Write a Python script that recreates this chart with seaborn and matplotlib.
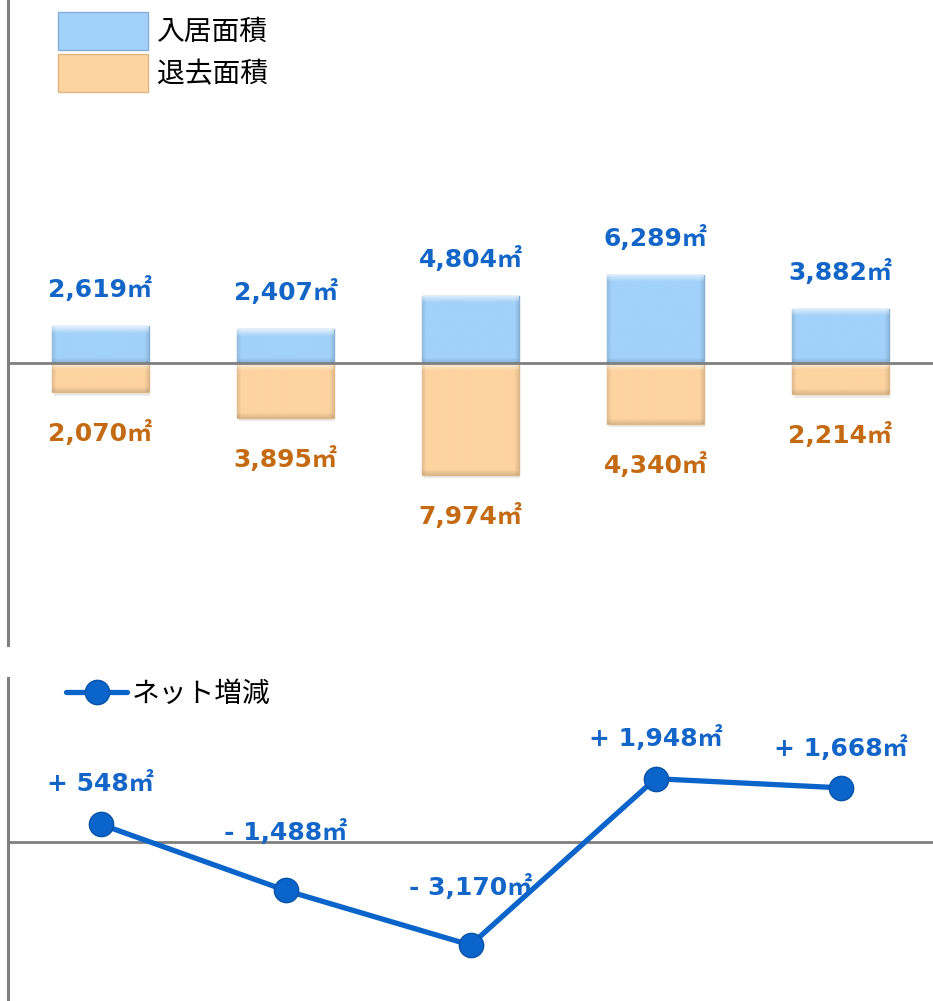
import numpy as np
import pandas as pd
import matplotlib
matplotlib.use("Agg")
import matplotlib.pyplot as plt
from matplotlib.patches import Patch
from matplotlib.colors import to_rgb
import seaborn as sns

# ---- data ----
periods = ["P1", "P2", "P3", "P4", "P5"]
move_in = [2619, 2407, 4804, 6289, 3882]      # 入居面積
move_out = [2070, 3895, 7974, 4340, 2214]     # 退去面積
net_change = [548, -1488, -3170, 1948, 1668]  # ネット増減

# ---- style ----
BLUE_BAR = "#A2D1F9"
BLUE_EDGE = "#86AED6"
ORANGE_BAR = "#FDD3A0"
ORANGE_EDGE = "#DDB684"
BLUE_TXT = "#1366C8"
ORANGE_TXT = "#C46A12"
LINE_C = "#0A64CA"
GRAY = "#7F7F7F"
UNIT = "㎡"

sns.set_theme(style="white")
plt.rcParams["font.family"] = ["DejaVu Sans", "Noto Sans CJK JP"]
plt.rcParams["text.color"] = "black"

W, H = 933, 1001
fig = plt.figure(figsize=(W / 100, H / 100), dpi=100)
ax1 = fig.add_axes([8 / W, (H - 645) / H, (W - 8) / W, 645 / H])
ax2 = fig.add_axes([8 / W, 0, (W - 8) / W, 323 / H])

df = pd.DataFrame({
    "period": periods,
    "move_in": move_in,
    "move_out": [-v for v in move_out],
    "net": net_change,
    "pos": np.arange(len(periods)),
})

# ---- top chart: bars ----
sns.barplot(data=df, x="period", y="move_in", color=BLUE_BAR, saturation=1,
            width=0.52, edgecolor=BLUE_EDGE, linewidth=1.0, ax=ax1)
sns.barplot(data=df, x="period", y="move_out", color=ORANGE_BAR, saturation=1,
            width=0.52, edgecolor=ORANGE_EDGE, linewidth=1.0, ax=ax1)
ax1.set_xlim(-0.5, 4.5)
ax1.set_ylim(-20100, 25870)


def bevel_image(base, hpx, wpx, b=5):
    """Soft bevel shading (light top band, slightly darker sides/bottom)."""
    base = np.array(to_rgb(base))
    img = np.tile(base, (hpx, wpx, 1))
    yy, xx = np.mgrid[0:hpx, 0:wpx]
    top = np.clip(1 - yy / (b + 2), 0, 1)[..., None]
    bot = np.clip(1 - (hpx - 1 - yy) / b, 0, 1)[..., None]
    side = np.clip(1 - np.minimum(xx, wpx - 1 - xx) / (b - 1), 0, 1)[..., None]
    img = img * (1 - 0.10 * side) * (1 - 0.12 * bot)
    img = img + (1 - img) * 0.65 * top
    return np.clip(img, 0, 1)


fig.canvas.draw()
for p in list(ax1.patches):
    x0, y0 = p.get_x(), p.get_y()
    w, h = p.get_width(), p.get_height()
    yb, yt = min(y0, y0 + h), max(y0, y0 + h)
    (px0, py0), (px1, py1) = ax1.transData.transform([(x0, yb), (x0 + w, yt)])
    hpx, wpx = max(int(round(py1 - py0)), 2), max(int(round(px1 - px0)), 2)
    # soft drop shadow
    ax1.add_patch(plt.Rectangle((x0 + 0.01, yb - 250), w, yt - yb, color="#000000",
                                alpha=0.08, lw=0, zorder=0.5))
    img = bevel_image(p.get_facecolor(), hpx, wpx)
    im = ax1.imshow(img, extent=(x0, x0 + w, yb, yt), origin="upper",
                    aspect="auto", zorder=p.get_zorder() + 0.1, interpolation="bilinear")
    im.set_clip_path(p)
ax1.set_xlim(-0.5, 4.5)
ax1.set_ylim(-20100, 25870)
ax1.axhline(0, color=GRAY, lw=2.0, zorder=5)

label_kw = dict(ha="center", va="center", fontsize=18, fontweight="bold",
                textcoords="offset points")
for i, v in enumerate(move_in):
    ax1.annotate(f"{v:,}" + UNIT, (i, v), xytext=(0, 26.5), color=BLUE_TXT, **label_kw)
for i, v in enumerate(move_out):
    ax1.annotate(f"{v:,}" + UNIT, (i, -v), xytext=(0, -29.5), color=ORANGE_TXT, **label_kw)

handles = [Patch(facecolor=BLUE_BAR, edgecolor=BLUE_EDGE, label="入居面積"),
           Patch(facecolor=ORANGE_BAR, edgecolor=ORANGE_EDGE, label="退去面積")]
fig.legend(handles=handles, loc="upper left", bbox_to_anchor=(58 / W, 1 - 12 / H),
           frameon=False, fontsize=20, handlelength=3.24, handleheight=1.72,
           labelspacing=0.15, handletextpad=0.32, borderpad=0, borderaxespad=0,
           labelcolor="black")

# ---- bottom chart: net line ----
sns.lineplot(data=df, x="pos", y="net", color=LINE_C, lw=3.8, marker="o",
             markersize=17.5, markerfacecolor=LINE_C, markeredgecolor="#0853A8",
             markeredgewidth=1, ax=ax2, legend=False, zorder=6)
ax2.set_xlim(-0.5, 4.5)
ax2.set_ylim(-4890, 5046)
ax2.axhline(0, color=GRAY, lw=2.0, zorder=2)
for i, v in enumerate(net_change):
    sign = "+ " if v > 0 else "- "
    off = 29 if v > 0 else 42
    ax2.annotate(f"{sign}{abs(v):,}" + UNIT, (i, v), xytext=(0, off), color=BLUE_TXT, **label_kw)

line_handle = [plt.Line2D([], [], color=LINE_C, lw=3.8, marker="o", markersize=17.5,
                          markerfacecolor=LINE_C, markeredgecolor="#0853A8")]
fig.legend(handles=line_handle, labels=["ネット増減"], loc="upper left",
           bbox_to_anchor=(66 / W, 1 - 680 / H), frameon=False, fontsize=20,
           handlelength=2.2, handletextpad=0.18, borderpad=0, borderaxespad=0,
           labelcolor="black")

for ax in (ax1, ax2):
    ax.set_xlabel("")
    ax.set_ylabel("")
    ax.set_xticks([])
    ax.set_yticks([])
    for s in ("top", "right", "bottom"):
        ax.spines[s].set_visible(False)
    ax.spines["left"].set_color(GRAY)
    ax.spines["left"].set_linewidth(2.2)
    ax.set_facecolor("none")

fig.savefig("out.png", dpi=100, facecolor="white")
